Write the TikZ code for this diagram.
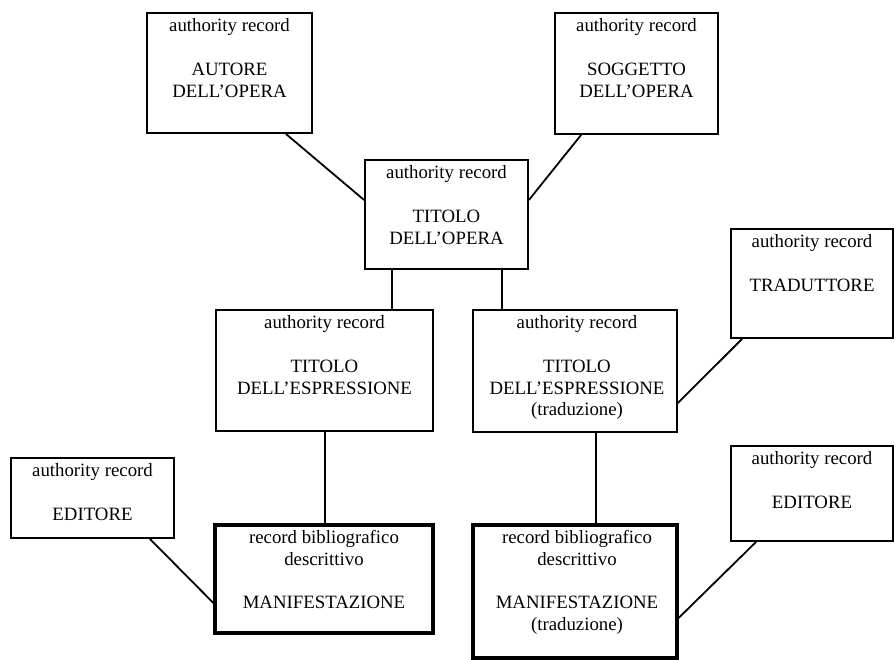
\documentclass[tikz,border=0pt]{standalone}
\usepackage{fontspec}
\setmainfont{Liberation Serif}
\begin{document}
\begin{tikzpicture}[x=1pt,y=-1pt,
  box/.style={draw,line width=1.8pt,rectangle,inner sep=0pt},
  thickbox/.style={draw,line width=3.2pt,rectangle,inner sep=0pt},
  txt/.style={anchor=north,inner sep=0pt,align=center,font=\fontsize{18.8}{21.7}\selectfont},
  link/.style={line width=1.8pt}]
\useasboundingbox (0,0) rectangle (894,659);
\newcommand{\mybox}[6]{%
  \node[#6, minimum width={#4-#2}, minimum height={#5-#3}] (#1) at ({(#2+#4)/2},{(#3+#5)/2}) {};}
% boxes
\mybox{A}{147}{13}{312}{133}{box}
\mybox{S}{555}{13}{718}{134}{box}
\mybox{T}{365}{160}{528}{269}{box}
\mybox{E1}{216}{310}{433}{431}{box}
\mybox{E2}{473}{310}{677}{432}{box}
\mybox{TR}{731}{229}{893}{338}{box}
\mybox{ED1}{11}{458}{174}{538}{box}
\mybox{ED2}{731}{446}{893}{541}{box}
\mybox{M1}{215}{525}{433}{633}{thickbox}
\mybox{M2}{473}{525}{677}{658}{thickbox}
% texts
\node[txt] (tA) at ([yshift=-6.5pt]A.north) {authority record\\[22pt]AUTORE\\DELL’OPERA};
\node[txt] (tS) at ([yshift=-6.5pt]S.north) {authority record\\[22pt]SOGGETTO\\DELL’OPERA};
\node[txt] (tT) at ([yshift=-6.5pt]T.north) {authority record\\[22pt]TITOLO\\DELL’OPERA};
\node[txt] (tE1) at ([yshift=-6.5pt]E1.north) {authority record\\[22pt]TITOLO\\DELL’ESPRESSIONE};
\node[txt] (tE2) at ([xshift=2pt,yshift=-6.5pt]E2.north) {authority record\\[22pt]TITOLO\\DELL’ESPRESSIONE\\(traduzione)};
\node[txt] (tTR) at ([yshift=-6.5pt]TR.north) {authority record\\[22pt]TRADUTTORE};
\node[txt] (tED1) at ([yshift=-6.5pt]ED1.north) {authority record\\[22pt]EDITORE};
\node[txt] (tED2) at ([yshift=-6.5pt]ED2.north) {authority record\\[22pt]EDITORE};
\node[txt] (tM1) at ([yshift=-6.5pt]M1.north) {record bibliografico\\descrittivo\\[22pt]MANIFESTAZIONE};
\node[txt] (tM2) at ([xshift=2pt,yshift=-6.5pt]M2.north) {record bibliografico\\descrittivo\\[22pt]MANIFESTAZIONE\\(traduzione)};
% connectors
\draw[link] ([xshift=-27pt]A.south east) -- ([yshift=14.5pt]T.west);
\draw[link] ([xshift=27pt]S.south west) -- ([yshift=14.5pt]T.east);
\draw[link] ([xshift=28pt]T.south west) -- ([xshift=28pt]T.south west |- E1.north);
\draw[link] ([xshift=-27pt]T.south east) -- ([xshift=-27pt]T.south east |- E2.north);
\draw[link] ([xshift=12pt]TR.south west) -- ([yshift=-32pt]E2.east);
\draw[link] ([xshift=0.5pt]E1.south) -- ([xshift=0.5pt]E1.south |- M1.north);
\draw[link] ([xshift=21pt]E2.south) -- ([xshift=21pt]E2.south |- M2.north);
\draw[link] ([xshift=-25pt]ED1.south east) -- ([yshift=-24pt]M1.west);
\draw[link] ([xshift=26pt]ED2.south west) -- ([yshift=-26.5pt]M2.east);
\end{tikzpicture}
\end{document}
